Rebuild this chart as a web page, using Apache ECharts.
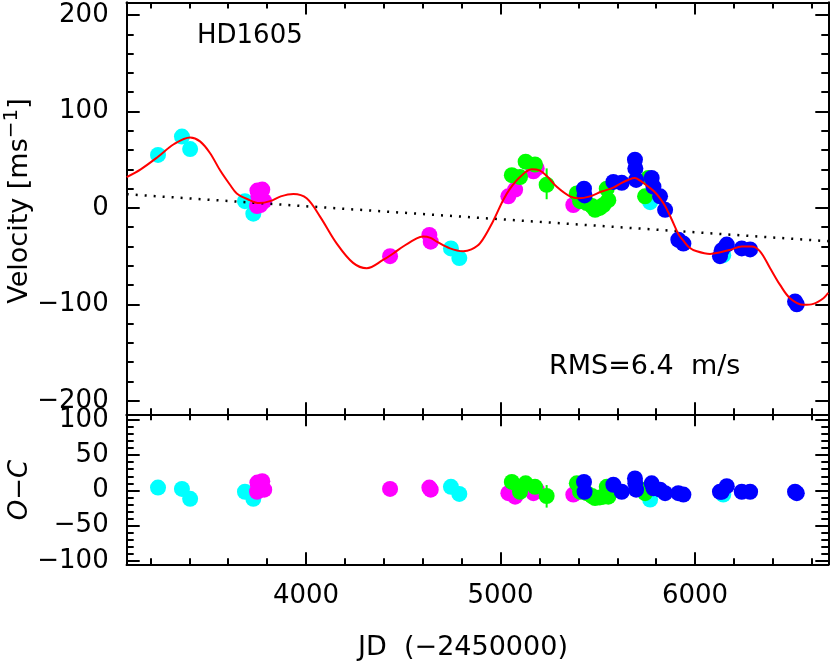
<!DOCTYPE html>
<html>
<head>
<meta charset="utf-8">
<script src="https://cdn.jsdelivr.net/npm/echarts@6/dist/echarts.min.js"></script>
<style>html,body{margin:0;padding:0;background:#fff;}#c{width:830px;height:664px;}</style>
</head>
<body>
<div id="c"></div>
<script>
// ---- data ----
const cyanJD = [3239, 3362, 3404, 3686, 3729, 4745, 4788, 5769, 6145];
const cyanV  = [55, 74, 61, 7, -6, -42, -52, 6, -49];
const cyanOC = [4, 2, -12, -2, -12, 5, -5, -13, -6];

const magJD = [3748, 3750, 3755, 3765, 3775, 3785, 4432, 4634, 4641, 5040, 5075, 5169, 5186, 5374];
const magV  = [2, 18, 12, 3, 19, 7, -50, -28, -35, 12, 19, 38, 41, 3];
const magOC = [-2, 11, 5, 1, 13, 1, 2, 4, 1, -4, -9, -4, 1, -6];

const greenJD = [5058, 5100, 5129, 5177, 5237, 5392, 5409, 5443, 5470, 5486, 5510, 5529, 5546, 5554, 5743, 5760];
const greenV  = [34, 32, 48, 45, 24, 15, 7, 5, 2, -2, 0, 3, 20, 8, 12, 31];
const greenOC = [12, -2, 10, 5, -8, 10, -2, -4, -8, -11, -10, -9, 5, -9, -4, 3];
const greenErrJD = [5237];
const greenErrV = [25];
const greenErrOC = [-8.5];
const greenErr = [16];

const blueJD = [5429, 5432, 5580, 5623, 5691, 5693, 5697, 5777, 5786, 5820, 5846, 5914, 5940, 6128, 6137, 6163, 6240, 6283, 6514, 6523];
const blueV  = [20, 13, 27, 26, 50, 41, 29, 31, 22, 12, -2, -33, -37, -50, -44, -38, -42, -43, -97, -100];
const blueOC = [12, -2, 8, -2, 17, 10, 1, 10, 3, 1, -4, -4, -6, -2, -2, 6, -2, -2, -2, -4];

const fitJD = [3078, 3150, 3239, 3320, 3404, 3455, 3506, 3558, 3609, 3644, 3700, 3760, 3815, 3870, 3935, 4003, 4072, 4158, 4242, 4312, 4396, 4450, 4499, 4569, 4602, 4640, 4672, 4740, 4807, 4850, 4895, 4961, 5013, 5049, 5100, 5160, 5200, 5238, 5289, 5357, 5400, 5460, 5520, 5580, 5623, 5656, 5690, 5720, 5760, 5790, 5820, 5846, 5880, 5914, 5940, 5970, 6009, 6077, 6130, 6180, 6240, 6290, 6334, 6386, 6437, 6488, 6557, 6608, 6660, 6685];
const fitV  = [32, 40, 53, 66, 73, 69, 57, 39, 24, 15, 9, 5, 7, 12, 14.5, 10, -9, -37, -57, -62.5, -54, -47, -40, -31.5, -29.7, -31, -35, -42, -45, -43, -36.6, -14, 8, 20, 32, 40, 39, 33, 22, 12, 10, 12, 17, 21, 26, 29, 31, 28, 22, 17, 10, 2, -12, -27, -34, -41, -45, -47.7, -46, -43.5, -40, -40, -45, -62.5, -79.8, -93.6, -100.5, -99.5, -93.6, -88];

const trendJD = [3078, 6685];
const trendV  = [14.2, -34.5];

const xMin = 3078, xMax = 6685;
const xMajor = [4000, 5000, 6000];
const xMinor = [3200, 3400, 3600, 3800, 4200, 4400, 4600, 4800, 5200, 5400, 5600, 5800, 6200, 6400, 6600];
const vMin = -214, vMax = 213;
const vMajor = [-200, -100, 0, 100, 200];
const vMinor = [-180, -160, -140, -120, -80, -60, -40, -20, 20, 40, 60, 80, 120, 140, 160, 180];
const ocMin = -105, ocMax = 108;
const ocMajor = [-100, -50, 0, 50, 100];
const ocMinor = [-90, -80, -70, -60, -40, -30, -20, -10, 10, 20, 30, 40, 60, 70, 80, 90];

// ---- chart ----
const FONT = 'DejaVu Sans';
const FS = 26;
const fmt = v => String(v).replace('-', '\u2212');
const pair = (a, b) => a.map((x, i) => [x, b[i]]);

function xAx(grid, pos, ticks, len, labels) {
  return {
    type: 'value', gridIndex: grid, position: pos, min: xMin, max: xMax,
    axisLine: { show: true, onZero: false, lineStyle: { color: '#000', width: 2 } },
    axisTick: { show: true, inside: true, length: len, customValues: ticks, lineStyle: { color: '#000', width: 2 } },
    axisLabel: { show: labels, customValues: xMajor, margin: 19, color: '#000', fontSize: FS, fontFamily: FONT, formatter: fmt },
    splitLine: { show: false }
  };
}
function yAx(grid, pos, mn, mx, ticks, labelVals, len, labels) {
  return {
    type: 'value', gridIndex: grid, position: pos, min: mn, max: mx,
    axisLine: { show: true, onZero: false, lineStyle: { color: '#000', width: 2 } },
    axisTick: { show: true, inside: true, length: len, customValues: ticks, lineStyle: { color: '#000', width: 2 } },
    axisLabel: { show: labels, customValues: labelVals, margin: 18, color: '#000', fontSize: FS, fontFamily: FONT, formatter: fmt },
    splitLine: { show: false }
  };
}

function scatter(xi, yi, data, color) {
  return { type: 'scatter', xAxisIndex: xi, yAxisIndex: yi, data: data, symbolSize: 16,
    itemStyle: { color: color, opacity: 1 }, emphasis: { disabled: true }, silent: true };
}
function errBars(xi, yi, data, color) {
  return { type: 'custom', xAxisIndex: xi, yAxisIndex: yi, data: data, silent: true,
    renderItem: function (params, api) {
      const p1 = api.coord([api.value(0), api.value(1) - api.value(2)]);
      const p2 = api.coord([api.value(0), api.value(1) + api.value(2)]);
      return { type: 'line', shape: { x1: p1[0], y1: p1[1], x2: p2[0], y2: p2[1] }, style: { stroke: color, lineWidth: 2 } };
    } };
}

const chart = echarts.init(document.getElementById('c'), null, { renderer: 'canvas' });
chart.setOption({
  animation: false,
  backgroundColor: '#fff',
  grid: [
    { left: 126.7, top: 2.5, width: 701.6, height: 411.8, outerBoundsMode: 'none' },
    { left: 126.7, top: 414.3, width: 701.6, height: 150, outerBoundsMode: 'none' }
  ],
  xAxis: [
    xAx(0, 'bottom', xMajor, 12, false),
    xAx(0, 'bottom', xMinor, 6, false),
    xAx(0, 'top', xMajor, 12, false),
    xAx(0, 'top', xMinor, 6, false),
    xAx(1, 'bottom', xMajor, 12, true),
    xAx(1, 'bottom', xMinor, 6, false),
    xAx(1, 'top', xMajor, 12, false),
    xAx(1, 'top', xMinor, 6, false)
  ],
  yAxis: [
    yAx(0, 'left', vMin, vMax, vMajor, vMajor, 13, true),
    yAx(0, 'left', vMin, vMax, vMinor, vMajor, 7, false),
    yAx(0, 'right', vMin, vMax, vMajor, vMajor, 13, false),
    yAx(0, 'right', vMin, vMax, vMinor, vMajor, 7, false),
    yAx(1, 'left', ocMin, ocMax, ocMajor, ocMajor, 13, true),
    yAx(1, 'left', ocMin, ocMax, ocMinor, ocMajor, 7, false),
    yAx(1, 'right', ocMin, ocMax, ocMajor, ocMajor, 13, false),
    yAx(1, 'right', ocMin, ocMax, ocMinor, ocMajor, 7, false)
  ],
  series: [
    { type: 'line', xAxisIndex: 0, yAxisIndex: 0, data: pair(trendJD, trendV), showSymbol: false, silent: true,
      lineStyle: { color: '#000', width: 2.5, type: [2, 7] } },
    { type: 'line', xAxisIndex: 0, yAxisIndex: 0, data: pair(fitJD, fitV), showSymbol: false, smooth: 0.35, silent: true,
      lineStyle: { color: '#ff0000', width: 2 } },
    scatter(0, 0, pair(cyanJD, cyanV), '#00ffff'),
    scatter(0, 0, pair(magJD, magV), '#ff00ff'),
    errBars(0, 0, greenErrJD.map((x, i) => [x, greenErrV[i], greenErr[i]]), '#00ff00'),
    scatter(0, 0, pair(greenJD, greenV), '#00ff00'),
    scatter(0, 0, pair(blueJD, blueV), '#0000ff'),
    scatter(4, 4, pair(cyanJD, cyanOC), '#00ffff'),
    scatter(4, 4, pair(magJD, magOC), '#ff00ff'),
    errBars(4, 4, greenErrJD.map((x, i) => [x, greenErrOC[i], greenErr[i]]), '#00ff00'),
    scatter(4, 4, pair(greenJD, greenOC), '#00ff00'),
    scatter(4, 4, pair(blueJD, blueOC), '#0000ff')
  ],
  graphic: [
    { type: 'text', x: 197, y: 36, silent: true,
      style: { text: 'HD1605', font: FS + 'px "' + FONT + '"', fill: '#000', textAlign: 'left', textVerticalAlign: 'middle' } },
    { type: 'text', x: 549, y: 367, silent: true,
      style: { text: 'RMS=6.4  m/s', font: '27px "' + FONT + '"', fill: '#000', textAlign: 'left', textVerticalAlign: 'middle' } },
    { type: 'text', x: 463, y: 648, silent: true,
      style: { text: 'JD  (\u22122450000)', font: '27px "' + FONT + '"', fill: '#000', textAlign: 'center', textVerticalAlign: 'middle' } },
    { type: 'text', x: 20, y: 201, rotation: Math.PI / 2, silent: true,
      style: { text: 'Velocity [ms{sup|\u22121}]', font: '27px "' + FONT + '"', fill: '#000', textAlign: 'center', textVerticalAlign: 'middle',
        rich: { sup: { fontSize: 20, fontFamily: FONT, verticalAlign: 'top', padding: [0, 0, 16, 0] } } } },
    { type: 'text', x: 20, y: 490, rotation: Math.PI / 2, silent: true,
      style: { text: 'O\u2212C', font: 'italic ' + FS + 'px "' + FONT + '"', fill: '#000', textAlign: 'center', textVerticalAlign: 'middle' } }
  ]
});
</script>
</body>
</html>
